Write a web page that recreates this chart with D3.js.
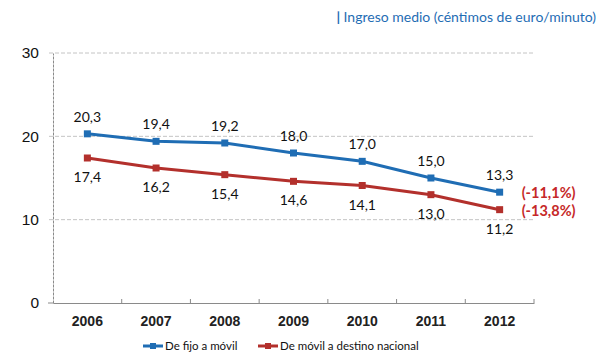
<!DOCTYPE html>
<html>
<head>
<meta charset="utf-8">
<script src="https://cdn.jsdelivr.net/npm/d3@7"></script>
<style>
  body { margin: 0; background: #fff; }
  svg { font-family: Lato, "Open Sans", sans-serif; }
</style>
</head>
<body>
<div id="chart"></div>
<script>
const years = ["2006", "2007", "2008", "2009", "2010", "2011", "2012"];
const fijoMovil = [20.3, 19.4, 19.2, 18.0, 17.0, 15.0, 13.3];
const movilNacional = [17.4, 16.2, 15.4, 14.6, 14.1, 13.0, 11.2];
const seriesNames = ["De fijo a móvil", "De móvil a destino nacional"];
const changeLabels = ["(-11,1%)", "(-13,8%)"];
const yTicks = [0, 10, 20, 30];

const width = 600, height = 361;
const margin = {top: 53, right: 66, bottom: 58, left: 53};
const blue = "#1f6db4", red = "#b3302c";

const svg = d3.select("#chart").append("svg")
  .attr("width", width)
  .attr("height", height);

const x = d3.scaleBand().domain(years).range([margin.left, width - margin.right]);
const y = d3.scaleLinear().domain([0, 30]).range([height - margin.bottom, margin.top]);

const fmt = (v) => d3.format(".1f")(v).replace(".", ",");

// title
const title = svg.append("text")
  .attr("x", 596).attr("y", 22)
  .attr("text-anchor", "end")
  .attr("fill", blue)
  .attr("font-size", "14px");
title.append("tspan").attr("font-weight", "bold").text("| ");
title.append("tspan").text("Ingreso medio (céntimos de euro/minuto)");

// gridlines
svg.append("g")
  .selectAll("line")
  .data(yTicks.filter(d => d > 0))
  .enter().append("line")
  .attr("x1", margin.left - 4).attr("x2", width - margin.right)
  .attr("y1", d => y(d)).attr("y2", d => y(d))
  .attr("stroke", "#c4c4c4")
  .attr("stroke-dasharray", "4,2");

// y axis
const yAxis = svg.append("g")
  .attr("transform", `translate(${margin.left},0)`)
  .call(d3.axisLeft(y).tickValues(yTicks).tickSize(0).tickPadding(14));
yAxis.select(".domain").attr("stroke", "#8a8a8a").attr("stroke-dasharray", "3,1");
yAxis.selectAll("text").attr("font-size", "15.5px").attr("fill", "#111");
yAxis.append("line").attr("x1", -5).attr("x2", 0)
  .attr("y1", y(0)).attr("y2", y(0)).attr("stroke", "#8a8a8a");

// x axis
const xAxis = svg.append("g")
  .attr("transform", `translate(0,${y(0)})`)
  .call(d3.axisBottom(x).tickSize(0).tickPadding(13));
xAxis.select(".domain").attr("stroke", "#8a8a8a");
xAxis.selectAll("text").attr("font-size", "14px").attr("font-weight", "bold").attr("fill", "#222");
xAxis.append("g").selectAll("line")
  .data(years.slice(1).concat(["end"]))
  .enter().append("line")
  .attr("x1", (d, i) => x(years[0]) + (i + 1) * x.step())
  .attr("x2", (d, i) => x(years[0]) + (i + 1) * x.step())
  .attr("y1", -4).attr("y2", 0)
  .attr("stroke", "#8a8a8a");

const series = [
  {name: seriesNames[0], values: fijoMovil, color: blue, dy: -12, change: changeLabels[0]},
  {name: seriesNames[1], values: movilNacional, color: red, dy: 24, change: changeLabels[1]}
];

const line = d3.line()
  .x((d, i) => x(years[i]) + x.bandwidth() / 2)
  .y(d => y(d));

series.forEach((s, si) => {
  svg.append("path")
    .datum(s.values)
    .attr("fill", "none")
    .attr("stroke", s.color)
    .attr("stroke-width", 3)
    .attr("d", line);

  svg.append("g").selectAll("rect")
    .data(s.values)
    .enter().append("rect")
    .attr("x", (d, i) => x(years[i]) + x.bandwidth() / 2 - 3.5)
    .attr("y", d => y(d) - 3.5)
    .attr("width", 7).attr("height", 7)
    .attr("fill", s.color);

  svg.append("g").selectAll("text")
    .data(s.values)
    .enter().append("text")
    .attr("x", (d, i) => x(years[i]) + x.bandwidth() / 2)
    .attr("y", d => y(d) + s.dy)
    .attr("text-anchor", "middle")
    .attr("font-size", "14px")
    .attr("fill", "#111")
    .text(d => fmt(d));

  const last = s.values[s.values.length - 1];
  svg.append("text")
    .attr("x", x(years[years.length - 1]) + x.bandwidth() / 2 + 22)
    .attr("y", y(last) + 6)
    .attr("font-size", "14.5px")
    .attr("font-weight", "bold")
    .attr("fill", "#c62828")
    .text(s.change);
});

// legend
const legendX = [143, 258];
series.forEach((s, i) => {
  const g = svg.append("g").attr("transform", `translate(${legendX[i]},346)`);
  g.append("line").attr("x1", 0).attr("x2", 20).attr("y1", 0).attr("y2", 0)
    .attr("stroke", s.color).attr("stroke-width", 3);
  g.append("rect").attr("x", 7).attr("y", -3).attr("width", 6).attr("height", 6).attr("fill", s.color);
  g.append("text").attr("x", 22).attr("y", 4)
    .attr("font-size", "11.5px").attr("fill", "#111").text(s.name);
});
</script>
</body>
</html>
